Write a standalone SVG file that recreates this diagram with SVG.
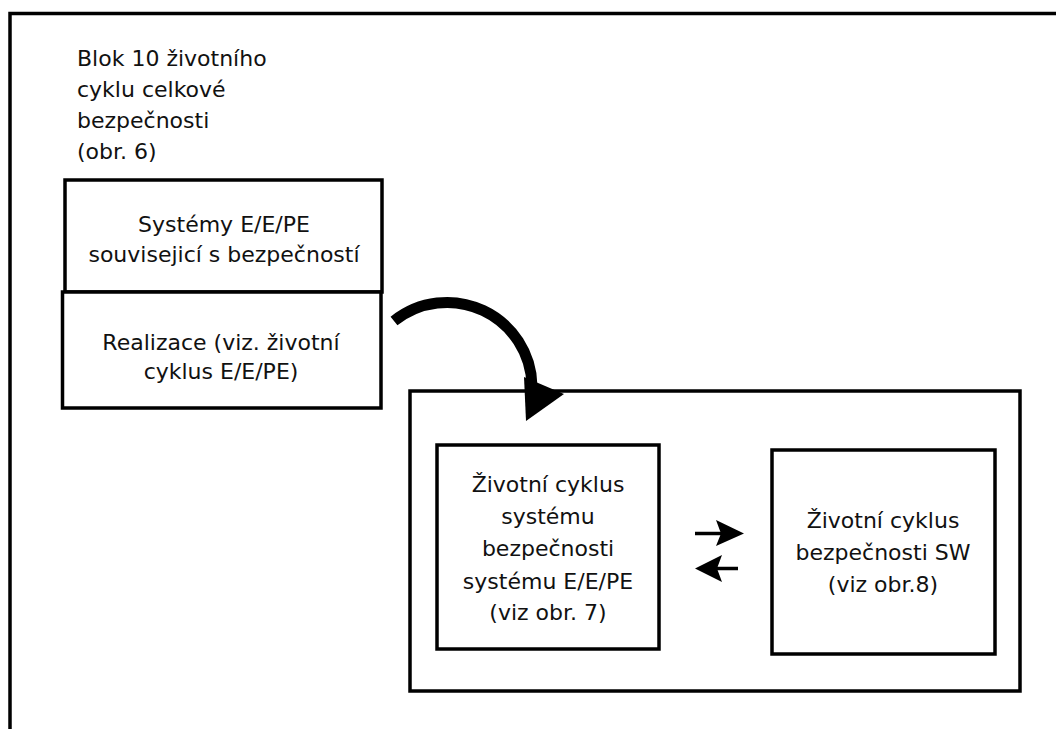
<svg xmlns="http://www.w3.org/2000/svg" width="1056" height="729" viewBox="0 0 1056 729">
  <style>
    .box { fill: #fff; stroke: #000; stroke-width: 3.5; }
    .frame { fill: none; stroke: #000; stroke-width: 3.5; }
    .lbl { font-family: "DejaVu Sans", Verdana, sans-serif; font-size: 22px; fill: #111; }
    .mid { text-anchor: middle; }
    .link { fill: none; stroke: #000; }
  </style>
  <rect width="1056" height="729" fill="#fff"/>

  <!-- outer frame (open to the right and bottom) -->
  <rect class="frame" x="10" y="13.5" width="1070" height="740"/>

  <g id="title">
    <text class="lbl" x="77" y="66">Blok 10 životního</text>
    <text class="lbl" x="77" y="97">cyklu celkové</text>
    <text class="lbl" x="77" y="128">bezpečnosti</text>
    <text class="lbl" x="77" y="159">(obr. 6)</text>
  </g>

  <g id="node-systemy">
    <rect class="box" x="65" y="180" width="317" height="112"/>
    <text class="lbl mid" x="224" y="232">Systémy E/E/PE</text>
    <text class="lbl mid" x="224" y="262">souvisejicí s bezpečností</text>
  </g>

  <g id="node-realizace">
    <rect class="box" x="62.5" y="292" width="318.5" height="116"/>
    <text class="lbl mid" x="221" y="350">Realizace (viz. životní</text>
    <text class="lbl mid" x="221" y="379">cyklus E/E/PE)</text>
  </g>

  <g id="node-container">
    <rect class="box" x="410" y="391" width="610" height="300"/>
  </g>

  <g id="node-system-cycle">
    <rect class="box" x="437" y="445" width="222" height="204"/>
    <text class="lbl mid" x="548" y="492">Životní cyklus</text>
    <text class="lbl mid" x="548" y="524">systému</text>
    <text class="lbl mid" x="548" y="556">bezpečnosti</text>
    <text class="lbl mid" x="548" y="589">systému E/E/PE</text>
    <text class="lbl mid" x="548" y="620">(viz obr. 7)</text>
  </g>

  <g id="node-sw-cycle">
    <rect class="box" x="772" y="450" width="223" height="204"/>
    <text class="lbl mid" x="883" y="528">Životní cyklus</text>
    <text class="lbl mid" x="883" y="560">bezpečnosti SW</text>
    <text class="lbl mid" x="883" y="592">(viz obr.8)</text>
  </g>

  <g id="connectors">
    <!-- curved arrow from Realizace into the lifecycle block -->
    <path class="link" stroke-width="11" d="M 394 321 A 85 85 0 0 1 532 386"/>
    <polygon points="524,377 564,394 526,421" fill="#000"/>
    <!-- exchange arrows between the two lifecycles -->
    <line class="link" stroke-width="3.5" x1="695" y1="533.5" x2="722" y2="533.5"/>
    <polygon points="744,533.5 716,520 721,533.5 716,546" fill="#000"/>
    <line class="link" stroke-width="3.5" x1="738" y1="568.5" x2="716" y2="568.5"/>
    <polygon points="695,568.5 722,555 717,568.5 722,582" fill="#000"/>
  </g>
</svg>
